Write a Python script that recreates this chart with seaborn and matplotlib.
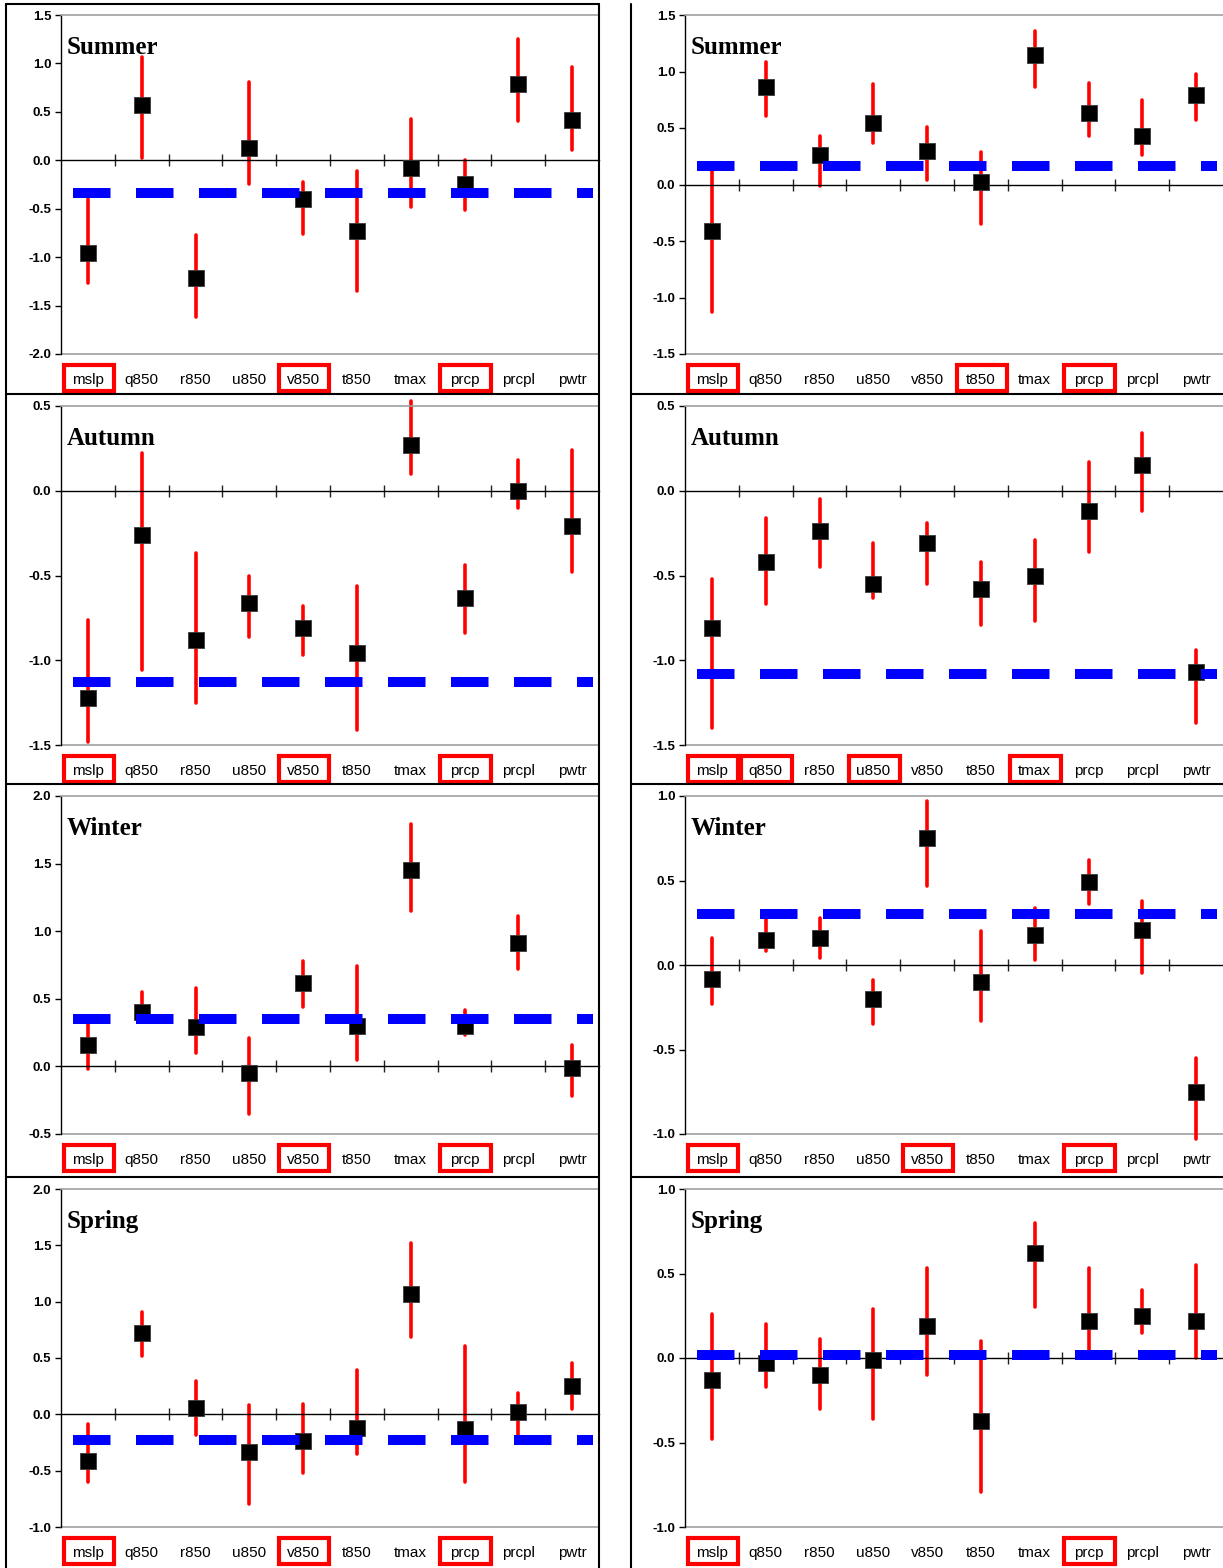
import numpy as np
import pandas as pd
import matplotlib
matplotlib.use("Agg")
import matplotlib.pyplot as plt
import matplotlib.transforms as mtransforms
from matplotlib.patches import Rectangle
from matplotlib.lines import Line2D
import seaborn as sns

VARIABLES = ["mslp", "q850", "r850", "u850", "v850", "t850", "tmax", "prcp", "prcpl", "pwtr"]

# Summer, left column
SUMMER_A_MEAN = [-0.96, 0.57, -1.22, 0.13, -0.40, -0.73, -0.08, -0.25, 0.79, 0.42]
SUMMER_A_LOW = [-1.27, 0.02, -1.62, -0.25, -0.76, -1.35, -0.48, -0.51, 0.41, 0.11]
SUMMER_A_HIGH = [-0.40, 1.07, -0.77, 0.81, -0.22, -0.11, 0.43, 0.00, 1.25, 0.96]
SUMMER_A_BASE = -0.34
SUMMER_A_BOXED = ["mslp", "v850", "prcp"]

# Summer, right column
SUMMER_B_MEAN = [-0.41, 0.86, 0.26, 0.54, 0.30, 0.02, 1.15, 0.63, 0.43, 0.79]
SUMMER_B_LOW = [-1.13, 0.61, -0.01, 0.37, 0.04, -0.35, 0.86, 0.43, 0.26, 0.57]
SUMMER_B_HIGH = [0.14, 1.08, 0.43, 0.89, 0.51, 0.29, 1.36, 0.90, 0.75, 0.98]
SUMMER_B_BASE = 0.16
SUMMER_B_BOXED = ["mslp", "t850", "prcp"]

# Autumn, left column
AUTUMN_A_MEAN = [-1.22, -0.26, -0.88, -0.66, -0.81, -0.96, 0.27, -0.63, 0.00, -0.21]
AUTUMN_A_LOW = [-1.48, -1.06, -1.25, -0.86, -0.97, -1.41, 0.10, -0.84, -0.10, -0.48]
AUTUMN_A_HIGH = [-0.76, 0.22, -0.37, -0.50, -0.68, -0.56, 0.53, -0.44, 0.18, 0.24]
AUTUMN_A_BASE = -1.13
AUTUMN_A_BOXED = ["mslp", "v850", "prcp"]

# Autumn, right column
AUTUMN_B_MEAN = [-0.81, -0.42, -0.24, -0.55, -0.31, -0.58, -0.50, -0.12, 0.15, -1.07]
AUTUMN_B_LOW = [-1.40, -0.67, -0.45, -0.63, -0.55, -0.79, -0.77, -0.36, -0.12, -1.37]
AUTUMN_B_HIGH = [-0.52, -0.16, -0.05, -0.31, -0.19, -0.42, -0.29, 0.17, 0.34, -0.94]
AUTUMN_B_BASE = -1.08
AUTUMN_B_BOXED = ["mslp", "q850", "u850", "tmax"]

# Winter, left column
WINTER_A_MEAN = [0.16, 0.40, 0.29, -0.05, 0.62, 0.30, 1.45, 0.30, 0.91, -0.01]
WINTER_A_LOW = [-0.02, 0.33, 0.10, -0.35, 0.44, 0.05, 1.15, 0.23, 0.72, -0.22]
WINTER_A_HIGH = [0.33, 0.55, 0.58, 0.21, 0.78, 0.74, 1.79, 0.42, 1.11, 0.16]
WINTER_A_BASE = 0.35
WINTER_A_BOXED = ["mslp", "v850", "prcp"]

# Winter, right column
WINTER_B_MEAN = [-0.08, 0.15, 0.16, -0.20, 0.75, -0.10, 0.18, 0.49, 0.21, -0.75]
WINTER_B_LOW = [-0.23, 0.08, 0.04, -0.35, 0.47, -0.33, 0.03, 0.36, -0.05, -1.03]
WINTER_B_HIGH = [0.16, 0.28, 0.28, -0.09, 0.97, 0.20, 0.34, 0.62, 0.38, -0.55]
WINTER_B_BASE = 0.30
WINTER_B_BOXED = ["mslp", "v850", "prcp"]

# Spring, left column
SPRING_A_MEAN = [-0.41, 0.72, 0.06, -0.33, -0.24, -0.12, 1.07, -0.13, 0.02, 0.25]
SPRING_A_LOW = [-0.60, 0.52, -0.18, -0.80, -0.52, -0.35, 0.69, -0.60, -0.25, 0.05]
SPRING_A_HIGH = [-0.09, 0.91, 0.30, 0.08, 0.09, 0.39, 1.52, 0.61, 0.19, 0.46]
SPRING_A_BASE = -0.23
SPRING_A_BOXED = ["mslp", "v850", "prcp"]

# Spring, right column
SPRING_B_MEAN = [-0.13, -0.03, -0.10, -0.01, 0.19, -0.37, 0.62, 0.22, 0.25, 0.22]
SPRING_B_LOW = [-0.48, -0.17, -0.30, -0.36, -0.10, -0.79, 0.30, 0.00, 0.15, 0.00]
SPRING_B_HIGH = [0.26, 0.20, 0.11, 0.29, 0.53, 0.10, 0.80, 0.53, 0.40, 0.55]
SPRING_B_BASE = 0.02
SPRING_B_BOXED = ["mslp", "prcp"]

PANELS = [
    ("Summer", SUMMER_A_MEAN, SUMMER_A_LOW, SUMMER_A_HIGH, SUMMER_A_BASE, (-2.0, 1.5), SUMMER_A_BOXED),
    ("Summer", SUMMER_B_MEAN, SUMMER_B_LOW, SUMMER_B_HIGH, SUMMER_B_BASE, (-1.5, 1.5), SUMMER_B_BOXED),
    ("Autumn", AUTUMN_A_MEAN, AUTUMN_A_LOW, AUTUMN_A_HIGH, AUTUMN_A_BASE, (-1.5, 0.5), AUTUMN_A_BOXED),
    ("Autumn", AUTUMN_B_MEAN, AUTUMN_B_LOW, AUTUMN_B_HIGH, AUTUMN_B_BASE, (-1.5, 0.5), AUTUMN_B_BOXED),
    ("Winter", WINTER_A_MEAN, WINTER_A_LOW, WINTER_A_HIGH, WINTER_A_BASE, (-0.5, 2.0), WINTER_A_BOXED),
    ("Winter", WINTER_B_MEAN, WINTER_B_LOW, WINTER_B_HIGH, WINTER_B_BASE, (-1.0, 1.0), WINTER_B_BOXED),
    ("Spring", SPRING_A_MEAN, SPRING_A_LOW, SPRING_A_HIGH, SPRING_A_BASE, (-1.0, 2.0), SPRING_A_BOXED),
    ("Spring", SPRING_B_MEAN, SPRING_B_LOW, SPRING_B_HIGH, SPRING_B_BASE, (-1.0, 1.0), SPRING_B_BOXED),
]

sns.set_style("ticks")
plt.rcParams["font.family"] = ["Liberation Sans", "DejaVu Sans"]
plt.rcParams["axes.unicode_minus"] = False
for key in ("text.color", "axes.labelcolor", "xtick.color", "ytick.color", "axes.edgecolor"):
    plt.rcParams[key] = "black"

W, H = 1223, 1568
fig = plt.figure(figsize=(W / 100, H / 100), dpi=100)

# plot-area geometry in pixels
COL_X = [(61, 599), (685, 1223)]
ROW_Y = [(15, 354), (406, 745), (796, 1134), (1189, 1527)]
# panel borders
LEFT_FRAME_X = (6, 599)
RIGHT_FRAME_X = 631
ROW_LINES = [4, 394, 784, 1177]


def px_rect(x0, x1, y0, y1):
    return [x0 / W, 1 - y1 / H, (x1 - x0) / W, (y1 - y0) / H]


def fig_line(xs, ys):
    fig.add_artist(Line2D([x / W for x in xs], [1 - y / H for y in ys],
                          transform=fig.transFigure, color="black", lw=1.5, zorder=10))


def draw_panel(ax, title, mean, low, high, base, ylim, boxed):
    pos = np.arange(len(VARIABLES))
    df = pd.DataFrame({"var": VARIABLES, "pos": pos, "mean": mean, "low": low, "high": high})

    ax.vlines(df["pos"], df["low"], df["high"], color="#ff0000", lw=2.6,
              zorder=2, clip_on=False, capstyle="round")
    sns.scatterplot(data=df, x="pos", y="mean", marker="s", s=125, color="black",
                    edgecolor="#3a3a3a", linewidth=0.6, zorder=3, ax=ax, legend=False,
                    clip_on=False)
    ax.axhline(base, xmin=0.022, xmax=0.989, color="#0000ff", lw=7.2,
               dashes=(3.75, 2.55), dash_capstyle="butt", zorder=4)

    ax.set_xlim(-0.5, len(VARIABLES) - 0.5)
    ax.set_ylim(*ylim)
    ax.set_xlabel("")
    ax.set_ylabel("")

    ticks = np.round(np.arange(ylim[0], ylim[1] + 0.01, 0.5), 2)
    ax.set_yticks(ticks, labels=[f"{t + 0.0:.1f}" for t in ticks],
                  fontweight="bold", fontsize=9.5, color="black")
    ax.tick_params(axis="y", direction="out", length=4, width=1, color="black", pad=3)

    # category axis runs through zero with boundary ticks
    ax.spines["bottom"].set_position(("data", 0))
    ax.spines["bottom"].set_color("black")
    ax.spines["bottom"].set_linewidth(1)
    ax.set_xticks(np.arange(0.5, len(VARIABLES) - 1, 1.0))
    ax.tick_params(axis="x", direction="inout", length=9, width=1, color="#222222",
                   labelbottom=False, bottom=True, top=False)

    ax.spines["left"].set_color("black")
    ax.spines["left"].set_linewidth(1)
    ax.spines["top"].set_visible(True)
    ax.spines["top"].set_color("#a0a0a0")
    ax.spines["top"].set_linewidth(1.2)
    ax.spines["right"].set_visible(False)
    ax.axhline(ylim[0], color="#a0a0a0", lw=1.2, clip_on=False, zorder=1)

    ax.text(0.010, 0.885, title, transform=ax.transAxes, ha="left", va="baseline",
            fontsize=18, fontweight="bold", color="black",
            family=["Liberation Serif", "DejaVu Serif"])

    trans = mtransforms.blended_transform_factory(ax.transData, ax.transAxes)
    for i, name in enumerate(VARIABLES):
        ax.text(i, -0.077, name, transform=trans, ha="center", va="center",
                fontsize=11, color="black")
        if name in boxed:
            ax.add_patch(Rectangle((i - 0.45, -0.109), 0.94, 0.077, transform=trans,
                                   fill=False, edgecolor="#ff0000", lw=3, clip_on=False))


for k, (title, mean, low, high, base, ylim, boxed) in enumerate(PANELS):
    row, col = divmod(k, 2)
    x0, x1 = COL_X[col]
    y0, y1 = ROW_Y[row]
    ax = fig.add_axes(px_rect(x0, x1, y0, y1))
    ax.set_facecolor("white")
    draw_panel(ax, title, mean, low, high, base, ylim, boxed)

# borders of the left column
lx0, lx1 = LEFT_FRAME_X
fig_line([lx0, lx0], [ROW_LINES[0], H + 2])
fig_line([lx1, lx1], [ROW_LINES[0], H + 2])
for y in ROW_LINES:
    fig_line([lx0, lx1], [y, y])

# borders of the right column
fig_line([RIGHT_FRAME_X, RIGHT_FRAME_X], [ROW_LINES[0], H + 2])
for y in ROW_LINES[1:]:
    fig_line([RIGHT_FRAME_X, W + 2], [y, y])

fig.savefig("out.png", dpi=100)
